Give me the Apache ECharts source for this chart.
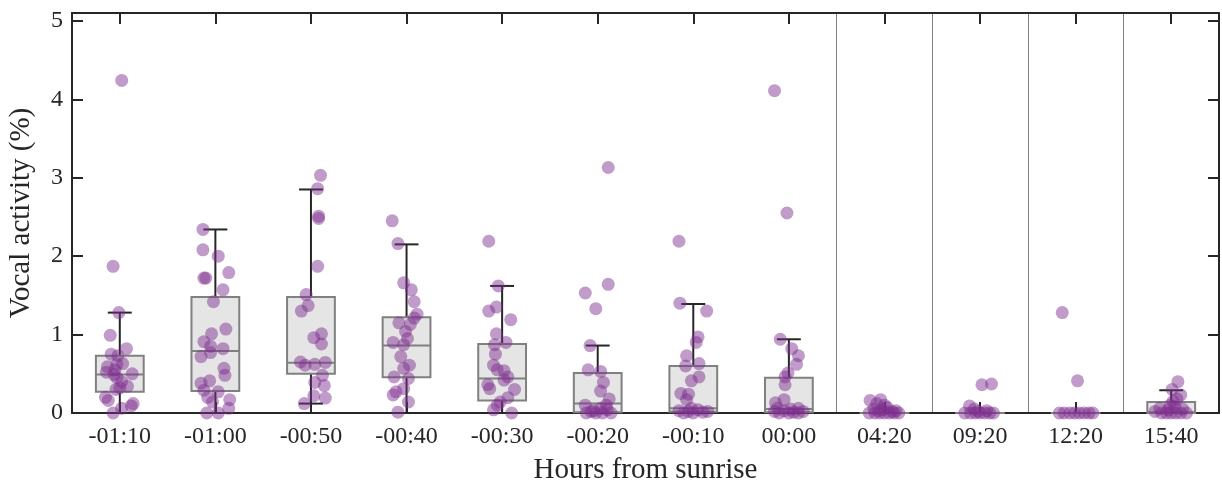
<!DOCTYPE html>
<html>
<head>
<meta charset="utf-8">
<script src="https://cdn.jsdelivr.net/npm/echarts@6/dist/echarts.min.js"></script>
<style>html,body{margin:0;padding:0;background:#fff;}#chart{width:1222px;height:488px;}</style>
</head>
<body>
<div id="chart"></div>
<script>
const categories = ['-01:10','-01:00','-00:50','-00:40','-00:30','-00:20','-00:10','00:00','04:20','09:20','12:20','15:40'];
const yTicks = [0,1,2,3,4,5];

// box statistics
const whiskerLow  = [0, 0, 0.12, 0, 0, 0, 0, 0, 0, 0, 0, 0];
const quartile1   = [0.27, 0.28, 0.50, 0.455, 0.16, 0.01, 0.015, 0.01, 0, 0, 0, 0];
const medians     = [0.49, 0.79, 0.64, 0.86, 0.44, 0.12, 0.06, 0.05, 0, 0, 0, 0.01];
const quartile3   = [0.73, 1.48, 1.48, 1.22, 0.88, 0.51, 0.60, 0.45, 0, 0, 0, 0.14];
const whiskerHigh = [1.28, 2.34, 2.85, 2.15, 1.62, 0.86, 1.39, 0.94, 0, 0, 0, 0.29];

// individual observations: [jitter (category units), vocal activity %]
const pts_m0110 = [[0.02,4.24],[-0.07,1.87],[-0.01,1.28],[-0.10,0.99],[0.07,0.82],[-0.09,0.75],[-0.02,0.73],[0.03,0.63],[-0.13,0.59],[-0.14,0.52],[-0.06,0.49],[0.13,0.50],[-0.03,0.45],[0.02,0.40],[0.08,0.34],[0.00,0.32],[-0.04,0.30],[-0.15,0.20],[-0.12,0.16],[0.14,0.12],[0.12,0.09],[0.02,0.06],[-0.07,0.00],[-0.05,0.55],[-0.03,0.62]];
const pts_m0100 = [[-0.13,2.34],[-0.13,2.08],[0.03,2.00],[0.14,1.79],[-0.12,1.72],[-0.10,1.72],[0.08,1.57],[-0.02,1.42],[0.11,1.07],[-0.04,1.01],[-0.12,0.91],[-0.05,0.85],[0.08,0.82],[-0.05,0.77],[-0.15,0.72],[0.09,0.57],[0.10,0.48],[-0.15,0.38],[-0.06,0.41],[-0.12,0.29],[0.03,0.27],[-0.08,0.20],[-0.03,0.14],[0.15,0.17],[0.14,0.06],[-0.09,0.00],[0.03,0.00]];
const pts_m0050 = [[0.10,3.03],[0.07,2.86],[0.08,2.51],[0.08,2.48],[0.07,1.87],[-0.05,1.51],[-0.03,1.37],[-0.10,1.30],[0.03,0.96],[0.11,1.01],[0.11,0.88],[-0.11,0.65],[-0.06,0.61],[0.04,0.62],[0.15,0.645],[0.12,0.48],[0.14,0.35],[0.04,0.39],[0.15,0.19],[0.03,0.22],[-0.07,0.12]];
const pts_m0040 = [[-0.15,2.45],[-0.09,2.16],[-0.03,1.66],[0.05,1.57],[0.08,1.42],[0.11,1.26],[0.08,1.21],[-0.08,1.15],[0.04,1.13],[-0.01,1.04],[0.01,0.95],[-0.14,0.90],[-0.03,0.87],[-0.06,0.72],[0.03,0.61],[-0.03,0.57],[-0.13,0.46],[0.02,0.44],[-0.03,0.31],[-0.11,0.27],[-0.14,0.23],[0.02,0.14],[-0.09,0.01]];
const pts_m0030 = [[-0.14,2.19],[-0.04,1.62],[-0.06,1.35],[-0.14,1.30],[0.09,1.19],[-0.06,1.01],[0.04,0.90],[-0.08,0.87],[-0.07,0.75],[-0.09,0.61],[-0.05,0.55],[0.02,0.54],[0.06,0.46],[0.02,0.42],[-0.15,0.36],[-0.13,0.31],[0.13,0.30],[0.06,0.195],[-0.02,0.14],[-0.05,0.10],[-0.09,0.04],[0.10,0.00]];
const pts_m0020 = [[0.11,3.13],[0.11,1.64],[-0.13,1.53],[-0.02,1.33],[-0.08,0.86],[-0.10,0.55],[0.03,0.53],[0.06,0.39],[0.03,0.28],[0.12,0.18],[-0.13,0.10],[0.09,0.10],[0.03,0.06],[-0.02,0.00],[-0.12,0.00],[0.14,0.00],[0.05,0.00],[-0.07,0.02],[0.10,0.04],[-0.04,0.03]];
const pts_m0010 = [[-0.15,2.19],[-0.14,1.40],[0.14,1.30],[0.05,0.97],[0.03,0.90],[-0.07,0.73],[0.06,0.63],[-0.08,0.60],[0.06,0.46],[-0.02,0.41],[-0.13,0.25],[-0.05,0.24],[-0.07,0.17],[-0.15,0.03],[-0.10,0.00],[-0.05,0.02],[0.00,0.00],[0.05,0.04],[0.10,0.01],[0.15,0.02],[-0.02,0.06]];
const pts_p0000 = [[-0.15,4.11],[-0.02,2.55],[-0.09,0.94],[0.03,0.82],[0.10,0.73],[0.08,0.62],[-0.01,0.51],[-0.04,0.46],[-0.04,0.36],[-0.14,0.13],[-0.05,0.17],[0.10,0.06],[-0.15,0.02],[-0.10,0.00],[-0.05,0.03],[0.00,0.00],[0.05,0.01],[0.10,0.00],[0.15,0.02],[0.02,0.05],[-0.12,0.06]];
const pts_p0420 = [[-0.15,0.16],[-0.04,0.17],[-0.08,0.12],[0.00,0.10],[0.03,0.07],[-0.11,0.05],[-0.16,0.00],[-0.10,0.00],[-0.05,0.00],[0.00,0.00],[0.05,0.00],[0.10,0.00],[0.15,0.00],[-0.06,0.03],[0.08,0.02],[0.12,0.03],[-0.02,0.04]];
const pts_p0920 = [[0.02,0.36],[0.12,0.37],[-0.11,0.09],[-0.06,0.05],[-0.16,0.00],[-0.10,0.00],[-0.05,0.00],[0.00,0.00],[0.05,0.00],[0.10,0.00],[0.14,0.00],[-0.02,0.02],[0.07,0.03]];
const pts_p1220 = [[-0.14,1.28],[0.02,0.41],[-0.17,0.00],[-0.12,0.00],[-0.06,0.00],[-0.01,0.00],[0.04,0.00],[0.09,0.00],[0.14,0.00],[0.18,0.00]];
const pts_p1540 = [[0.07,0.40],[0.01,0.30],[0.10,0.23],[0.06,0.18],[0.02,0.15],[-0.01,0.10],[-0.12,0.06],[-0.17,0.02],[-0.10,0.00],[-0.05,0.00],[0.00,0.00],[0.05,0.00],[0.10,0.00],[0.16,0.00],[0.12,0.05],[-0.03,0.04],[0.04,0.08]];

const groups = [pts_m0110, pts_m0100, pts_m0050, pts_m0040, pts_m0030, pts_m0020, pts_m0010, pts_p0000, pts_p0420, pts_p0920, pts_p1220, pts_p1540];

const FONT = 'Liberation Serif';
const INK = '#262626';

const boxData = categories.map((c, i) => [i, whiskerLow[i], quartile1[i], medians[i], quartile3[i], whiskerHigh[i]]);
const scatterData = [];
groups.forEach((g, i) => g.forEach(p => scatterData.push([i + p[0], p[1]])));

function renderBox(params, api) {
  const i = api.value(0);
  const band = api.size([1, 0])[0];
  const bw = band * 0.5, cw = bw * 0.5;
  const lo = api.coord([i, api.value(1)]);
  const q1 = api.coord([i, api.value(2)]);
  const md = api.coord([i, api.value(3)]);
  const q3 = api.coord([i, api.value(4)]);
  const hi = api.coord([i, api.value(5)]);
  const x = q1[0];
  const dark = { stroke: INK, lineWidth: 2 };
  const gray = { stroke: '#808080', lineWidth: 2 };
  return {
    type: 'group',
    children: [
      { type: 'line', shape: { x1: x, y1: q3[1], x2: x, y2: hi[1] }, style: dark },
      { type: 'line', shape: { x1: x - cw / 2, y1: hi[1], x2: x + cw / 2, y2: hi[1] }, style: dark },
      { type: 'line', shape: { x1: x, y1: q1[1], x2: x, y2: lo[1] }, style: dark },
      { type: 'line', shape: { x1: x - cw / 2, y1: lo[1], x2: x + cw / 2, y2: lo[1] }, style: dark },
      { type: 'rect', shape: { x: x - bw / 2, y: q3[1], width: bw, height: Math.max(q1[1] - q3[1], 0.01) }, style: { fill: '#e5e5e5', stroke: '#808080', lineWidth: 2 } },
      { type: 'line', shape: { x1: x - bw / 2, y1: md[1], x2: x + bw / 2, y2: md[1] }, style: gray }
    ]
  };
}

const chart = echarts.init(document.getElementById('chart'), null, { renderer: 'canvas' });
const axisLine = { show: true, onZero: false, lineStyle: { color: INK, width: 2 } };
const tick = { show: true, inside: true, length: 11, lineStyle: { color: INK, width: 2 } };
chart.setOption({
  animation: false,
  backgroundColor: '#ffffff',
  grid: { left: 72, right: 3, top: 13, bottom: 75, containLabel: false, outerBoundsMode: 'none' },
  xAxis: [
    {
      type: 'category', data: categories, position: 'bottom', boundaryGap: true,
      axisLine: axisLine,
      axisTick: Object.assign({ alignWithLabel: true, interval: 0 }, tick),
      axisLabel: { color: INK, fontFamily: FONT, fontSize: 24, margin: 12, interval: 0 },
      splitLine: { show: true, interval: function (idx) { return idx >= 8; }, lineStyle: { color: '#808080', width: 1 } },
      name: 'Hours from sunrise', nameLocation: 'middle', nameGap: 43,
      nameTextStyle: { color: INK, fontFamily: FONT, fontSize: 29 }
    },
    {
      type: 'category', data: categories, position: 'top', boundaryGap: true,
      axisLine: axisLine,
      axisTick: Object.assign({ alignWithLabel: true, interval: 0 }, tick),
      axisLabel: { show: false }, splitLine: { show: false }
    },
    { type: 'value', min: -0.5, max: 11.5, show: false, splitLine: { show: false }, axisLine: { onZero: false } }
  ],
  yAxis: [
    {
      type: 'value', min: 0, max: 5.1, interval: 1, position: 'left',
      axisLine: axisLine, axisTick: tick,
      axisLabel: { color: INK, fontFamily: FONT, fontSize: 24, margin: 9, showMaxLabel: false,
        formatter: function (v) { return yTicks.indexOf(v) >= 0 ? String(v) : ''; } },
      splitLine: { show: false },
      name: 'Vocal activity (%)', nameLocation: 'middle', nameGap: 36,
      nameTextStyle: { color: INK, fontFamily: FONT, fontSize: 29 }
    },
    {
      type: 'value', min: 0, max: 5.1, interval: 1, position: 'right',
      axisLine: axisLine, axisTick: tick, axisLabel: { show: false }, splitLine: { show: false }
    }
  ],
  series: [
    {
      type: 'custom', name: 'box', xAxisIndex: 0, yAxisIndex: 0, renderItem: renderBox,
      data: boxData, clip: false, z: 2, silent: true
    },
    {
      type: 'scatter', name: 'points', xAxisIndex: 2, yAxisIndex: 0, data: scatterData,
      symbol: 'circle', symbolSize: 13, clip: false, z: 3, silent: true,
      itemStyle: { color: 'rgba(126,47,142,0.6)', borderWidth: 0 }
    }
  ]
});
</script>
</body>
</html>
